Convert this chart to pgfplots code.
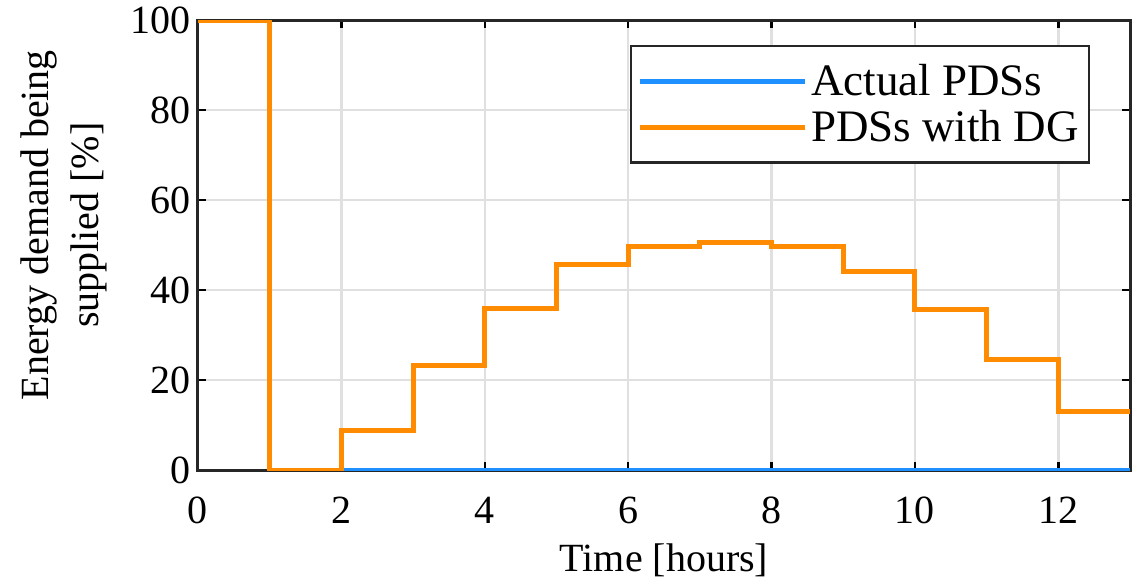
\documentclass[border=0pt]{standalone}
\usepackage{pgfplots}
\pgfplotsset{compat=1.18}
\usepackage{fontspec}
\setmainfont{Liberation Serif}
\definecolor{myorange}{RGB}{255,140,0}
\definecolor{myblue}{RGB}{30,144,255}
\begin{document}
\begin{tikzpicture}
\begin{axis}[
  scale only axis,
  width=466pt, height=225pt,
  xmin=0, xmax=13, ymin=0, ymax=100,
  xtick={0,2,...,12}, ytick={0,20,...,100},
  /pgf/number format/assume math mode=true,
  tick label style={font=\fontsize{20}{24}\selectfont},
  label style={font=\fontsize{20}{25}\selectfont},
  xticklabel shift=10pt,
  xlabel={Time [hours]},
  xlabel style={yshift=-3pt},
  ylabel={Energy demand being\\supplied [\%]},
  ylabel style={align=center, yshift=5pt, xshift=10pt},
  grid=major,
  major grid style={line width=1.2pt, color=black!12},
  axis line style={line width=1.5pt, black!85},
  tick style={line width=1.2pt, black},
  tick align=inside,
  major tick length=4pt,
  legend style={at={(0.957,0.945)}, anchor=north east, draw=black!85, line width=1.2pt,
    font=\fontsize{22.5}{26}\selectfont, row sep=2pt, inner xsep=3pt, inner ysep=7pt},
  legend cell align=left,
  legend image code/.code={\draw[#1, line width=2.5pt] (0cm,0cm) -- (2.9cm,0cm);},
]
\addplot[color=myblue, line width=2.5pt, const plot] coordinates {(1,0) (13,0)};
\addlegendentry{Actual PDSs}
\addplot[color=myorange, line width=2.5pt, const plot] coordinates {
(0,100) (1,0) (2,8.8) (3,23.2) (4,36) (5,45.6) (6,49.8) (7,50.7) (8,49.8) (9,44.2) (10,35.6) (11,24.7) (12,13.1) (13,13.1)};
\addlegendentry{PDSs with DG}
\end{axis}
\path ([xshift=7.5pt]current axis.east);
\path ([xshift=-99pt]current axis.west);
\end{tikzpicture}
\end{document}
